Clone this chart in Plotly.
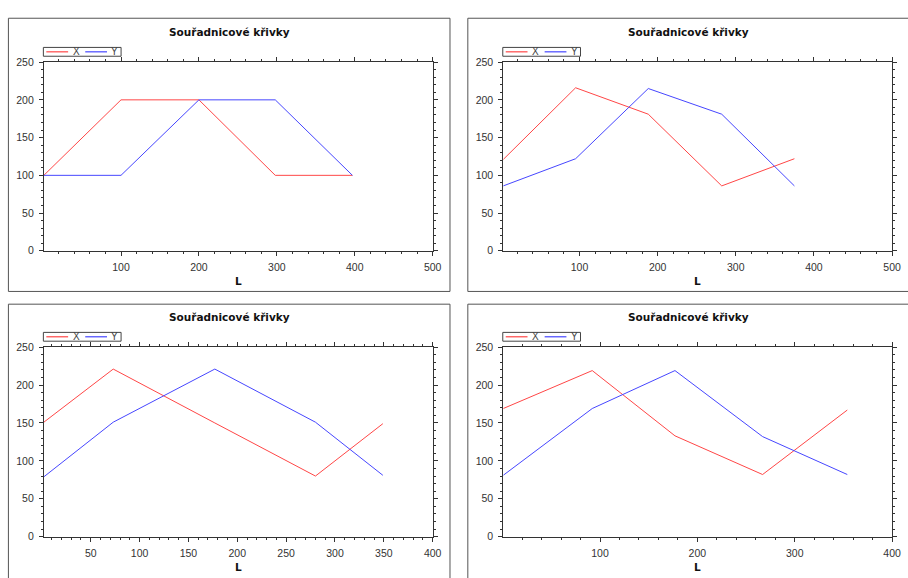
import plotly.graph_objects as go

W, H = 908, 578

# ---- data ----
title_text = "Souřadnicové křivky"
axis_label = "L"
series_names = ["X", "Y"]

L1 = [1, 100, 200, 298, 397]
X1 = [100, 200, 200, 100, 100]
Y1 = [100, 100, 200, 200, 100]

L2 = [2.4, 95, 188, 282, 375]
X2 = [121, 216, 181, 86, 122]
Y2 = [86, 122, 215, 181, 86]

L3 = [2, 73, 177, 280, 349]
X3 = [151, 221, 150, 80, 149]
Y3 = [79, 151, 221, 151, 81]

L4 = [0.6, 92, 177, 267, 354]
X4 = [169, 219, 133, 82, 167]
Y4 = [81, 169, 219, 132, 82]

x_max = [500, 500, 400, 400]
x_dtick = [100, 100, 50, 100]
y_range = [0, 250]
y_dtick = 50

panels = [(L1, X1, Y1), (L2, X2, Y2), (L3, X3, Y3), (L4, X4, Y4)]

# ---- layout geometry (pixels) ----
plot_boxes = [  # left, top, right, bottom
    (44.3, 57.3, 437.0, 250.0),
    (508.3, 57.3, 901.0, 250.0),
    (44.3, 348.3, 437.0, 542.0),
    (508.3, 348.3, 901.0, 542.0),
]
frame_boxes = [
    (8.5, 12.5, 454.5, 291.5),
    (472.5, 12.5, 920.0, 291.5),
    (8.5, 304.5, 454.5, 600.0),
    (472.5, 304.5, 920.0, 600.0),
]

COLORS = ["rgb(255,70,70)", "rgb(70,70,255)"]
AX_COL = "#333333"
TICK_FONT = dict(family="Liberation Sans, Arial, sans-serif", size=10.5, color="#333333")
BOLD_FONT = "DejaVu Sans, Verdana, sans-serif"


def px(x):
    return x / W


def py(y):
    return 1 - y / H


fig = go.Figure()
layout = dict(
    width=W, height=H,
    margin=dict(l=0, r=0, t=0, b=0),
    paper_bgcolor="white", plot_bgcolor="white",
    showlegend=False,
)
shapes = []
annotations = []

for i, (Lv, Xv, Yv) in enumerate(panels):
    n = i + 1
    sfx = "" if n == 1 else str(n)
    l, t, r, b = plot_boxes[i]
    xdom = [px(l), px(r)]
    ydom = [py(b), py(t)]
    xr = [Lv[0], x_max[i]]

    for name, vals, col in zip(series_names, [Xv, Yv], COLORS):
        fig.add_trace(go.Scatter(
            x=Lv, y=vals, mode="lines", name=name,
            line=dict(color=col, width=1),
            xaxis="x" + sfx, yaxis="y" + sfx, hoverinfo="skip",
        ))

    common = dict(
        showgrid=False, zeroline=False, showline=True, linecolor=AX_COL, linewidth=1,
        mirror="ticks", ticks="outside", ticklen=4, tickcolor=AX_COL, tickwidth=1,
        tickfont=TICK_FONT,
    )
    layout["xaxis" + sfx] = dict(
        domain=xdom, anchor="y" + sfx, range=xr, autorange=False,
        dtick=x_dtick[i], tick0=0,
        minor=dict(dtick=x_dtick[i] / 5, tick0=0, ticks="outside", ticklen=2,
                   tickcolor=AX_COL, showgrid=False),
        ticklabelstandoff=3,
        **common,
    )
    layout["yaxis" + sfx] = dict(
        domain=ydom, anchor="x" + sfx, range=y_range, autorange=False,
        dtick=y_dtick, tick0=0,
        minor=dict(dtick=y_dtick / 5, tick0=0, ticks="outside", ticklen=2,
                   tickcolor=AX_COL, showgrid=False),
        ticklabelstandoff=3,
        **common,
    )
    # overlay axes to make ticks cross the axis line
    ox = "xaxis" + str(n + 4)
    oy = "yaxis" + str(n + 4)
    layout[ox] = dict(
        domain=xdom, anchor="y" + sfx, overlaying="x" + sfx, range=xr, autorange=False,
        dtick=x_dtick[i], tick0=0, showticklabels=False, showline=False, showgrid=False,
        zeroline=False, ticks="inside", ticklen=4, tickcolor=AX_COL, mirror="ticks",
        minor=dict(dtick=x_dtick[i] / 5, tick0=0, ticks="inside", ticklen=2,
                   tickcolor=AX_COL, showgrid=False),
    )
    layout[oy] = dict(
        domain=ydom, anchor="x" + sfx, overlaying="y" + sfx, range=y_range, autorange=False,
        dtick=y_dtick, tick0=0, showticklabels=False, showline=False, showgrid=False,
        zeroline=False, ticks="inside", ticklen=4, tickcolor=AX_COL, mirror="ticks",
        minor=dict(dtick=y_dtick / 5, tick0=0, ticks="inside", ticklen=2,
                   tickcolor=AX_COL, showgrid=False),
    )

    # panel frame
    fl, ft, fr, fb = frame_boxes[i]
    shapes.append(dict(type="rect", xref="paper", yref="paper",
                       x0=px(fl), x1=px(fr), y0=py(fb), y1=py(ft),
                       line=dict(color="#555555", width=1), layer="below"))

    # title
    annotations.append(dict(text="<b>" + title_text + "</b>", xref="paper", yref="paper",
                            x=px((fl + min(fr, fl + 446)) / 2), y=py(t - 30.5),
                            xanchor="center", yanchor="middle", showarrow=False,
                            font=dict(family=BOLD_FONT, size=10.5, color="#111111")))
    # axis label
    annotations.append(dict(text="<b>" + axis_label + "</b>", xref="paper", yref="paper",
                            x=px((l + r) / 2), y=py(b + 31), xanchor="center",
                            yanchor="middle", showarrow=False,
                            font=dict(family=BOLD_FONT, size=10.5, color="#111111")))

    # legend box
    shapes.append(dict(type="rect", xref="paper", yref="paper",
                       x0=px(l - 0.5), x1=px(l + 78), y0=py(t - 6), y1=py(t - 15),
                       line=dict(color="#444444", width=1), fillcolor="white",
                       layer="above"))
    for k, (name, col) in enumerate(zip(series_names, COLORS)):
        x0 = l + 2.5 + k * 39.3
        shapes.append(dict(type="line", xref="paper", yref="paper",
                           x0=px(x0), x1=px(x0 + 22), y0=py(t - 10.5), y1=py(t - 10.5),
                           line=dict(color=col, width=1.2), layer="above"))
        annotations.append(dict(text=name, xref="paper", yref="paper",
                                x=px(x0 + 30), y=py(t - 10.5), xanchor="center",
                                yanchor="middle", showarrow=False,
                                font=dict(family="Liberation Sans, Arial, sans-serif",
                                          size=10, color="#444444")))

layout["shapes"] = shapes
layout["annotations"] = annotations
fig.update_layout(**layout)
fig.write_html("out.html", config={"displayModeBar": False},
               post_script="document.body.style.margin='0';document.body.style.overflow='hidden';")
